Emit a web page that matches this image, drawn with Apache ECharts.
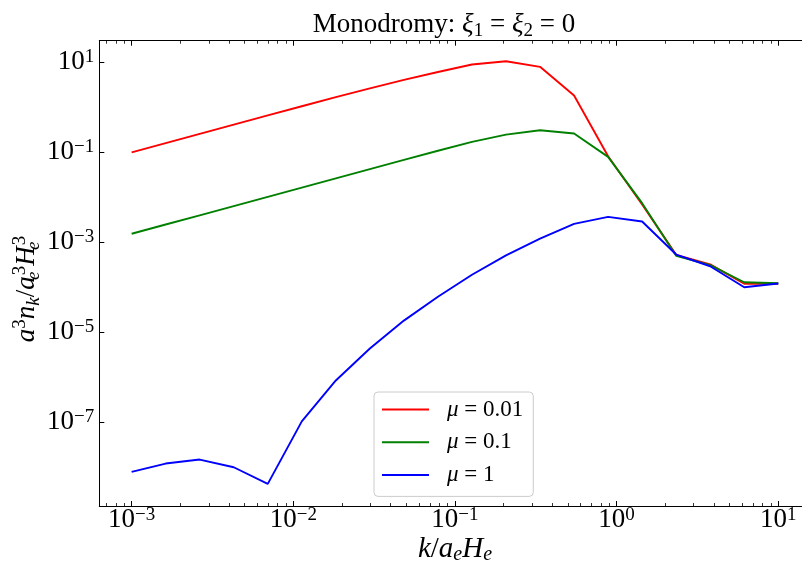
<!DOCTYPE html>
<html><head><meta charset="utf-8">
<script src="https://cdn.jsdelivr.net/npm/echarts@6/dist/echarts.min.js"></script>
<style>html,body{margin:0;padding:0;overflow:hidden;background:#fff}#c{width:812px;height:564px}</style>
</head><body><div id="c"></div>
<script>
// ---- data ----
const kValues = [1.000e-3, 1.6238e-3, 2.6367e-3, 4.2813e-3, 6.9519e-3, 1.1288e-2, 1.8330e-2, 2.9764e-2, 4.8329e-2, 7.8476e-2,
                 0.12743, 0.20691, 0.33598, 0.54556, 0.88587, 1.4384, 2.3357, 3.7927, 6.1585, 10.0];
const nkMu001 = [0.0977, 0.1567, 0.2512, 0.4027, 0.6457, 1.030, 1.641, 2.570, 3.981, 5.957,
                 8.710, 10.30, 7.745, 1.782, 0.0798, 6.76e-3, 5.13e-4, 3.16e-4, 1.17e-4, 1.17e-4];
const nkMu01  = [1.514e-3, 2.427e-3, 3.890e-3, 6.237e-3, 1.000e-2, 1.603e-2, 2.570e-2, 4.121e-2, 6.607e-2, 0.1059,
                 0.1660, 0.2421, 0.3020, 0.2553, 0.0774, 7.24e-3, 4.90e-4, 3.05e-4, 1.265e-4, 1.20e-4];
const nkMu1   = [7.74e-9, 1.183e-8, 1.452e-8, 9.79e-9, 4.19e-9, 1.023e-7, 8.32e-7, 4.27e-6, 1.778e-5, 6.03e-5,
                 1.862e-4, 5.01e-4, 1.175e-3, 2.512e-3, 3.597e-3, 2.825e-3, 5.22e-4, 2.87e-4, 9.79e-5, 1.183e-4];
const seriesNames = ['μ = 0.01', 'μ = 0.1', 'μ = 1'];
const seriesColors = ['#ff0000', '#008000', '#0000ff'];
const xMajorTicks = [1e-3, 1e-2, 1e-1, 1, 10];
const yMajorTicks = [1e-7, 1e-5, 1e-3, 1e-1, 10];
const xRange = [Math.pow(10, -3.2), Math.pow(10, 1.2)];
const yRange = [Math.pow(10, -8.87), Math.pow(10, 1.47)];

// minor ticks at 2..9 x 10^n
const xMinorTicks = [];
for (let e = -4; e <= 1; e++) for (let m = 2; m <= 9; m++) {
  const v = m * Math.pow(10, e);
  if (v > xRange[0] && v < xRange[1]) xMinorTicks.push(v);
}

const SERIF = "'Liberation Serif', 'DejaVu Serif', serif";
const tickRich = {
  b: {fontFamily: SERIF, fontSize: 27, lineHeight: 28, verticalAlign: 'middle', color: '#000'},
  s: {fontFamily: SERIF, fontSize: 19, lineHeight: 15, verticalAlign: 'top', color: '#000'}
};
function powLabel(v) {
  const e = Math.round(Math.log10(v));
  return '{b|10}{s|' + (e < 0 ? '\u2212' + (-e) : String(e)) + '}';
}
function mathRich(fs, ss) {
  return {
    r: {fontFamily: SERIF, fontSize: fs, lineHeight: 32, verticalAlign: 'middle', color: '#000'},
    i: {fontFamily: SERIF, fontSize: fs, fontStyle: 'italic', lineHeight: 32, verticalAlign: 'middle', color: '#000'},
    sub: {fontFamily: SERIF, fontSize: ss, fontStyle: 'italic', lineHeight: 19, verticalAlign: 'bottom', color: '#000'},
    subn: {fontFamily: SERIF, fontSize: ss, lineHeight: 19, verticalAlign: 'bottom', color: '#000'},
    subz: {fontFamily: SERIF, fontSize: ss, fontStyle: 'italic', lineHeight: 19, verticalAlign: 'bottom', width: 1, color: '#000'},
    sup: {fontFamily: SERIF, fontSize: ss, lineHeight: 19, verticalAlign: 'top', color: '#000'}
  };
}

function xAxisDef(pos, major, showLine, showLabel) {
  return {
    type: 'log', logBase: 10, min: xRange[0], max: xRange[1], position: pos,
    axisLine: {show: showLine, lineStyle: {color: '#000', width: 1}},
    axisTick: {show: true, inside: true, length: major ? 5 : 3,
               lineStyle: {color: '#000', width: major ? 1 : 0.8},
               customValues: major ? xMajorTicks : xMinorTicks},
    axisLabel: showLabel ? {show: true, customValues: xMajorTicks, formatter: powLabel, margin: 0,
               rich: tickRich, hideOverlap: false} : {show: false},
    splitLine: {show: false}, minorTick: {show: false}
  };
}

const chart = echarts.init(document.getElementById('c'), null, {renderer: 'canvas'});
const option = {
  animation: false,
  backgroundColor: '#ffffff',
  grid: {left: 99.3, top: 40.7, width: 711.3, height: 465.3, containLabel: false, outerBoundsMode: 'none'},
  xAxis: [
    xAxisDef('bottom', true, true, true),
    xAxisDef('bottom', false, false, false),
    xAxisDef('top', true, true, false),
    xAxisDef('top', false, false, false)
  ],
  yAxis: [{
    type: 'log', logBase: 10, min: yRange[0], max: yRange[1], position: 'left',
    axisLine: {show: true, lineStyle: {color: '#000', width: 1}},
    axisTick: {show: true, inside: true, length: 5, lineStyle: {color: '#000', width: 1}, customValues: yMajorTicks},
    axisLabel: {show: true, customValues: yMajorTicks, formatter: powLabel, margin: 5, rich: tickRich, hideOverlap: false},
    splitLine: {show: false}, minorTick: {show: false}
  }],
  legend: {
    orient: 'vertical', left: 374, top: 392, padding: [6, 10, 10, 8],
    icon: 'rect', itemWidth: 47, itemHeight: 2, itemGap: 9.7,
    borderColor: '#cccccc', borderWidth: 1, borderRadius: 4, backgroundColor: 'rgba(255,255,255,0.8)',
    data: seriesNames,
    formatter: function (name) { const p = name.split(' = '); return '{i|μ}{t| = ' + p[1] + '}'; },
    textStyle: {fontFamily: SERIF, fontSize: 23, lineHeight: 22, color: '#000',
      rich: {i: {fontFamily: SERIF, fontStyle: 'italic', fontSize: 23, lineHeight: 22, padding: [0, 0, 0, 13]},
             t: {fontFamily: SERIF, fontSize: 23, lineHeight: 22}}}
  },
  series: [nkMu001, nkMu01, nkMu1].map(function (vals, s) {
    return {
      name: seriesNames[s], type: 'line', xAxisIndex: 0, yAxisIndex: 0,
      symbol: 'none', showSymbol: false, clip: true,
      lineStyle: {color: seriesColors[s], width: 1.9},
      itemStyle: {color: seriesColors[s]},
      data: kValues.map(function (k, i) { return [k, vals[i]]; })
    };
  }),
  graphic: [
    {type: 'text', x: 444, y: 25, style: {
      text: '{r|Monodromy: }{i|ξ}{subn|1}{r| = }{i|ξ}{subn|2}{r| = 0}', rich: mathRich(27, 19),
      align: 'center', verticalAlign: 'middle', textAlign: 'center', textVerticalAlign: 'middle'}},
    {type: 'text', x: 455, y: 549, style: {
      text: '{i|k}{r|/}{i|a}{sub|e}{i|H}{sub|e}', rich: mathRich(29, 20),
      align: 'center', verticalAlign: 'middle', textAlign: 'center', textVerticalAlign: 'middle'}},
    {type: 'text', x: 27, y: 289, rotation: Math.PI / 2, style: {
      text: '{i|a}{sup|3}{i|n}{sub|k}{r|/}{i|a}{subz|e}{sup|3}{i|H}{subz|e}{sup|3}', rich: mathRich(27, 19),
      align: 'center', verticalAlign: 'middle', textAlign: 'center', textVerticalAlign: 'middle'}}
  ]
};
chart.setOption(option);
</script></body></html>
